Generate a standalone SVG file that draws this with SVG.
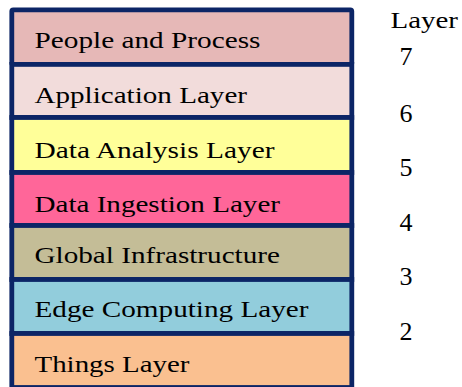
<svg xmlns="http://www.w3.org/2000/svg" width="462" height="387" viewBox="0 0 462 387">
  <style>
    .row { stroke: #0c2566; stroke-width: 4.8; }
    text { fill: #000; }
  </style>
  <rect width="462" height="387" fill="#ffffff"/>

  <!-- Layer stack, top to bottom -->
  <g font-family="Liberation Serif, 'Times New Roman', serif" font-size="23.5">
    <g id="layer7">
      <rect class="row" x="11.8" y="9.8" width="340" height="54.6" rx="1.5" fill="#e6b8b7"/>
      <text x="34.5" y="48.3" textLength="226" lengthAdjust="spacingAndGlyphs">People and Process</text>
    </g>
    <g id="layer6">
      <rect class="row" x="11.8" y="64.4" width="340" height="53.1" fill="#f2dcdb"/>
      <text x="34.5" y="103.3" textLength="212.5" lengthAdjust="spacingAndGlyphs">Application Layer</text>
    </g>
    <g id="layer5">
      <rect class="row" x="11.8" y="117.5" width="340" height="55" fill="#ffff99"/>
      <text x="34.5" y="158.3" textLength="240" lengthAdjust="spacingAndGlyphs">Data Analysis Layer</text>
    </g>
    <g id="layer4">
      <rect class="row" x="11.8" y="172.5" width="340" height="53" fill="#ff6699"/>
      <text x="34.5" y="211.7" textLength="245.5" lengthAdjust="spacingAndGlyphs">Data Ingestion Layer</text>
    </g>
    <g id="layer3">
      <rect class="row" x="11.8" y="225.5" width="340" height="54" fill="#c4bd97"/>
      <text x="34.5" y="262.5" textLength="245.5" lengthAdjust="spacingAndGlyphs">Global Infrastructure</text>
    </g>
    <g id="layer2">
      <rect class="row" x="11.8" y="279.5" width="340" height="54" fill="#92cddc"/>
      <text x="34.5" y="316.7" textLength="274" lengthAdjust="spacingAndGlyphs">Edge Computing Layer</text>
    </g>
    <g id="layer1">
      <rect class="row" x="11.8" y="333.5" width="340" height="54" fill="#fac090"/>
      <text x="34.5" y="372.2" textLength="155" lengthAdjust="spacingAndGlyphs">Things Layer</text>
    </g>

    <!-- Layer numbers column -->
    <g id="layer-numbers">
      <text x="390.5" y="28.3" textLength="67.5" lengthAdjust="spacingAndGlyphs">Layer</text>
      <g font-size="26">
        <text x="399.5" y="65">7</text>
        <text x="399.5" y="121.7">6</text>
        <text x="399.5" y="176.1">5</text>
        <text x="399.5" y="230.6">4</text>
        <text x="399.5" y="285">3</text>
        <text x="399.5" y="340">2</text>
      </g>
    </g>
  </g>
</svg>
